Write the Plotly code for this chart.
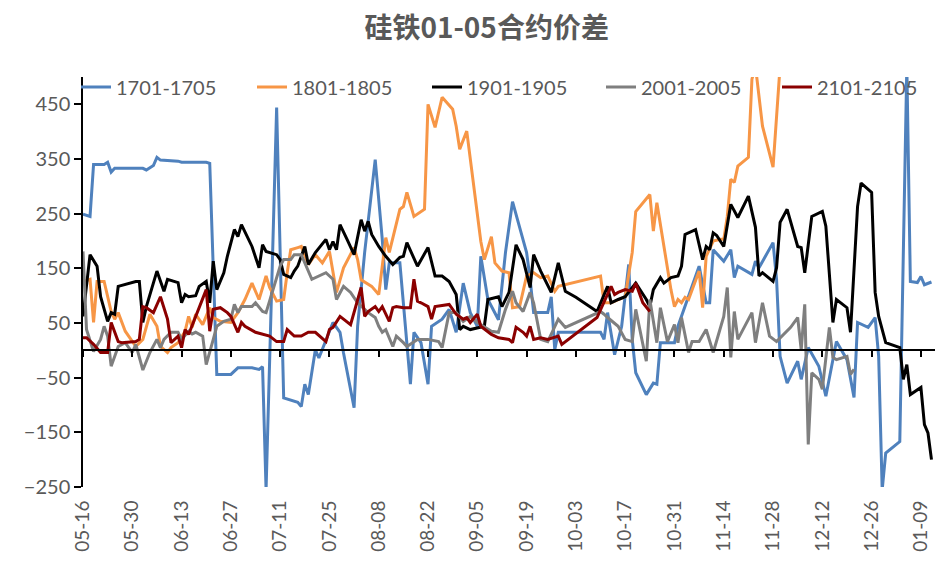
import plotly.graph_objects as go

# ---- data (month-day of each observation, value of the 01-05 spread) ----
d1701 = ["05-16", "05-18", "05-19", "05-22", "05-23", "05-24", "05-25", "06-02", "06-03", "06-05",
         "06-06", "06-07", "06-12", "06-13", "06-20", "06-21", "06-23", "06-27", "06-29", "07-03",
         "07-05", "07-06", "07-07", "07-10", "07-12", "07-16", "07-17", "07-18", "07-19", "07-21",
         "07-22", "07-24", "07-26", "07-28", "07-29", "08-01", "08-02", "08-04", "08-07", "08-09",
         "08-10", "08-11", "08-14", "08-17", "08-18", "08-20", "08-22", "08-23", "08-26", "08-28",
         "08-30", "09-01", "09-03", "09-05", "09-06", "09-08", "09-11", "09-13", "09-15", "09-19",
         "09-20", "09-21", "09-25", "09-26", "09-27", "09-28", "10-10", "10-11", "10-12", "10-14",
         "10-16", "10-18", "10-19", "10-20", "10-23", "10-25", "10-26", "10-27", "10-31", "11-01",
         "11-04", "11-07", "11-09", "11-10", "11-11", "11-14", "11-16", "11-17", "11-18", "11-22",
         "11-23", "11-24", "11-28", "11-29", "11-30", "12-02", "12-05", "12-06", "12-08", "12-11",
         "12-13", "12-16", "12-19", "12-21", "12-22", "12-25", "12-27", "12-28", "12-29", "12-30",
         "01-03", "01-05", "01-06", "01-08", "01-09", "01-10", "01-12"]
v1701 = [249, 245, 340, 340, 344, 326, 333, 333, 330, 338,
         353, 348, 346, 344, 344, 342, -44, -44, -32, -32,
         -35, -30, -255, 444, -87, -95, -103, -62, -81, 1,
         -14, 20, 51, 33, -5, -105, 44, 179, 349, 203,
         111, 160, 160, -62, 33, 14, -62, 44, 57, 75,
         33, 123, 69, 44, 172, 93, 56, 179, 272, 179,
         130, 69, 69, 98, 1, 33, 33, 20, 69, -8,
         44, 157, 20, -41, -81, -60, -62, 14, 14, 44,
         98, 154, 87, 87, 184, 163, 184, 133, 154, 139,
         163, 151, 197, 130, -11, -60, -20, -53, 5, -29,
         -84, 16, -17, -86, 51, 42, 60, -11, -255, -188,
         -167, 520, 126, 124, 135, 120, 125]

d1801 = ["05-16", "05-18", "05-19", "05-20", "05-22", "05-24", "05-25", "05-26", "05-28", "05-31",
         "06-02", "06-03", "06-04", "06-06", "06-07", "06-09", "06-10", "06-12", "06-14", "06-15",
         "06-16", "06-17", "06-19", "06-21", "06-22", "06-24", "06-27", "06-29", "07-01", "07-03",
         "07-05", "07-07", "07-08", "07-10", "07-12", "07-13", "07-14", "07-16", "07-17", "07-19",
         "07-21", "07-23", "07-25", "07-27", "07-29", "08-01", "08-02", "08-03", "08-06", "08-08",
         "08-10", "08-11", "08-14", "08-15", "08-16", "08-18", "08-21", "08-22", "08-24", "08-26",
         "08-29", "08-30", "08-31", "09-02", "09-04", "09-06", "09-07", "09-09", "09-10", "09-12",
         "09-14", "09-15", "09-17", "09-19", "09-21", "09-23", "09-25", "09-27", "09-28", "10-10",
         "10-11", "10-13", "10-17", "10-19", "10-20", "10-24", "10-25", "10-26", "10-30", "10-31",
         "11-01", "11-02", "11-03", "11-04", "11-07", "11-08", "11-09", "11-11", "11-13", "11-14",
         "11-15", "11-16", "11-17", "11-18", "11-21", "11-22", "11-23", "11-25", "11-28", "11-30"]
v1801 = [126, 130, 51, 126, 126, 71, 57, 69, 35, 7,
         20, 44, 66, 44, 7, -4, 5, 14, 35, 62,
         42, 66, 47, 78, 60, 53, 51, 69, 93, 123,
         93, 136, 115, 90, 93, 142, 184, 188, 190, 157,
         175, 160, 181, 106, 151, 188, 166, 129, 117, 102,
         206, 179, 258, 263, 289, 245, 258, 450, 408, 463,
         441, 410, 368, 401, 300, 199, 166, 208, 160, 145,
         142, 78, 80, 136, 142, 133, 136, 108, 117, 136,
         87, 87, 98, 179, 254, 285, 218, 270, 111, 80,
         93, 87, 97, 93, 145, 78, 172, 200, 203, 203,
         245, 313, 307, 337, 353, 496, 520, 410, 335, 520]

d1901 = ["05-16", "05-18", "05-20", "05-21", "05-23", "05-24", "05-25", "05-26", "05-31", "06-01",
         "06-02", "06-03", "06-06", "06-08", "06-09", "06-12", "06-13", "06-14", "06-15", "06-17",
         "06-18", "06-20", "06-21", "06-22", "06-23", "06-25", "06-26", "06-28", "06-29", "06-30",
         "07-03", "07-05", "07-06", "07-07", "07-10", "07-11", "07-12", "07-14", "07-15", "07-16",
         "07-18", "07-19", "07-21", "07-24", "07-25", "07-26", "07-27", "07-28", "07-30", "08-01",
         "08-03", "08-04", "08-05", "08-06", "08-08", "08-10", "08-12", "08-14", "08-15", "08-16",
         "08-19", "08-22", "08-24", "08-26", "08-28", "08-30", "08-31", "09-01", "09-03", "09-07",
         "09-08", "09-11", "09-12", "09-14", "09-16", "09-18", "09-20", "09-21", "09-23", "09-26",
         "09-28", "09-30", "10-03", "10-09", "10-12", "10-13", "10-15", "10-17", "10-20", "10-23",
         "10-24", "10-25", "10-27", "10-28", "10-30", "11-01", "11-02", "11-03", "11-06", "11-08",
         "11-09", "11-10", "11-11", "11-12", "11-13", "11-14", "11-16", "11-18", "11-21", "11-23",
         "11-24", "11-25", "11-28", "11-29", "11-30", "12-02", "12-05", "12-06", "12-07", "12-09",
         "12-12", "12-13", "12-15", "12-16", "12-19", "12-20", "12-22", "12-23", "12-26", "12-27",
         "12-28", "12-30", "01-03", "01-04", "01-05", "01-06", "01-09", "01-10", "01-11", "01-12"]
v1901 = [62, 175, 154, 98, 53, 69, 66, 117, 126, 126,
         51, 80, 145, 108, 130, 124, 87, 102, 98, 100,
         117, 126, 87, 163, 111, 142, 172, 221, 208, 230,
         190, 151, 193, 181, 175, 166, 139, 133, 145, 154,
         190, 157, 179, 203, 184, 199, 184, 230, 203, 175,
         239, 218, 236, 212, 190, 172, 157, 170, 172, 197,
         154, 188, 136, 136, 126, 102, 38, 44, 38, 44,
         93, 98, 80, 106, 193, 166, 115, 175, 145, 106,
         160, 108, 97, 71, 117, 87, 93, 98, 123, 93,
         80, 111, 133, 123, 133, 136, 154, 212, 221, 166,
         190, 184, 215, 210, 200, 190, 267, 243, 282, 225,
         136, 142, 126, 151, 234, 258, 190, 188, 142, 245,
         254, 227, 51, 93, 78, 33, 263, 306, 289, 106,
         62, 14, 5, -53, -26, -81, -68, -136, -151, -200]

d2001 = ["05-16", "05-17", "05-19", "05-21", "05-22", "05-23", "05-24", "05-26", "05-28", "05-30",
         "05-31", "06-02", "06-04", "06-06", "06-07", "06-08", "06-10", "06-12", "06-13", "06-15",
         "06-16", "06-17", "06-19", "06-20", "06-22", "06-23", "06-25", "06-27", "06-28", "06-29",
         "06-30", "07-03", "07-04", "07-06", "07-07", "07-09", "07-11", "07-12", "07-14", "07-15",
         "07-17", "07-20", "07-22", "07-24", "07-26", "07-27", "07-29", "07-31", "08-02", "08-05",
         "08-07", "08-08", "08-09", "08-10", "08-12", "08-13", "08-15", "08-16", "08-19", "08-22",
         "08-25", "08-26", "08-28", "08-30", "09-01", "09-03", "09-05", "09-08", "09-09", "09-11",
         "09-13", "09-15", "09-16", "09-18", "09-20", "09-21", "09-23", "09-25", "09-28", "09-30",
         "10-10", "10-11", "10-12", "10-15", "10-17", "10-19", "10-20", "10-23", "10-24", "10-26",
         "10-27", "10-29", "10-31", "11-01", "11-02", "11-04", "11-05", "11-07", "11-09", "11-11",
         "11-14", "11-15", "11-16", "11-17", "11-18", "11-22", "11-23", "11-25", "11-27", "11-29",
         "12-03", "12-05", "12-06", "12-07", "12-08", "12-09", "12-11", "12-12", "12-14", "12-15",
         "12-16", "12-19", "12-20", "12-21"]
v2001 = [181, 38, -2, 20, 44, 26, -29, 7, 14, -4,
         11, -36, -4, 20, 5, 20, 33, 33, 20, 35,
         30, 33, 26, -26, 20, 44, 53, 57, 84, 69,
         80, 80, 87, 71, 69, 111, 154, 166, 166, 175,
         175, 130, 136, 142, 130, 93, 117, 106, 87, 69,
         60, 44, 33, 38, 7, 26, 14, 7, 20, 20,
         16, 5, 69, 69, 53, 62, 51, 38, 35, 33,
         75, 108, 87, 71, 106, 87, 20, 16, 57, 42,
         71, 66, 60, 44, 20, 16, 75, -20, 93, 14,
         78, 16, 47, 14, 60, -4, 16, 16, 38, -4,
         62, 115, -13, 71, 20, 69, 14, 87, 26, 16,
         42, 60, 1, 84, -172, -41, -53, -71, 42, -13,
         -17, -11, -44, -35]

d2101 = ["05-16", "05-17", "05-19", "05-21", "05-23", "05-24", "05-26", "05-27", "05-31", "06-01",
         "06-02", "06-03", "06-05", "06-07", "06-09", "06-10", "06-12", "06-13", "06-14", "06-15",
         "06-20", "06-21", "06-22", "06-24", "06-26", "06-27", "06-29", "06-30", "07-01", "07-04",
         "07-08", "07-10", "07-12", "07-13", "07-15", "07-17", "07-19", "07-21", "07-24", "07-25",
         "07-26", "07-28", "07-31", "08-03", "08-04", "08-05", "08-07", "08-08", "08-09", "08-11",
         "08-12", "08-13", "08-15", "08-17", "08-18", "08-19", "08-20", "08-22", "08-23", "08-24",
         "08-28", "08-30", "09-01", "09-02", "09-03", "09-05", "09-06", "09-09", "09-11", "09-14",
         "09-15", "09-16", "09-18", "09-19", "09-20", "09-21", "09-23", "09-25", "09-28", "09-29",
         "10-09", "10-11", "10-13", "10-14", "10-15", "10-17", "10-19", "10-20", "10-22", "10-24"]
v2101 = [23, 23, 11, -4, -4, 51, 16, 14, 16, 20,
         80, 78, 69, 98, 57, 14, 26, 5, 38, 29,
         111, 35, 75, 78, 69, 62, 33, 51, 44, 33,
         26, 16, 16, 38, 26, 26, 33, 33, 16, 38,
         42, 62, 47, 115, 62, 71, 80, 71, 80, 53,
         78, 80, 78, 78, 130, 90, 87, 80, 57, 80,
         84, 66, 57, 60, 51, 66, 44, 29, 23, 20,
         14, 42, 33, 26, 44, 20, 23, 20, 26, 11,
         60, 90, 117, 102, 106, 111, 108, 123, 87, 71]

names = ["1701-1705", "1801-1805", "1901-1905", "2001-2005", "2101-2105"]
dates = [d1701, d1801, d1901, d2001, d2101]
values = [v1701, v1801, v1901, v2001, v2101]
colors = ["#4F81BD", "#F79646", "#000000", "#7F7F7F", "#8B0000"]

x_start, x_end = "2020-05-16", "2021-01-13"
y_ticks = [-250, -150, -50, 50, 150, 250, 350, 450]


def full_date(md):
    # season runs May -> January: months before May belong to the next year
    return ("2021-" if int(md[:2]) < 5 else "2020-") + md


fig = go.Figure()
legend_ids = ["legend", "legend2", "legend3", "legend4", "legend5"]
for name, d, v, c, lg in zip(names, dates, values, colors, legend_ids):
    fig.add_trace(go.Scatter(
        x=[full_date(m) for m in d], y=v, mode="lines", name=name,
        line=dict(color=c, width=3), legend=lg,
    ))

# helper trace so the zero-crossing axis (with tick marks) gets drawn
fig.add_trace(go.Scatter(x=[full_date(d1701[0])], y=[None], xaxis="x2",
                         showlegend=False, hoverinfo="skip"))

tick_font = dict(family="Lato, Noto Sans, sans-serif", size=19, color="#595959")
legend_font = dict(family="Lato, Noto Sans, sans-serif", size=20, color="#595959")
two_weeks = 14 * 24 * 3600 * 1000

# one legend box per series so the entries sit where the original ones are
legend_left = [76, 252, 427, 601, 777]
for lg, left in zip(legend_ids, legend_left):
    fig.update_layout({lg: dict(x=left / 945, xref="container", xanchor="left",
                                y=1 - 87 / 561, yref="container", yanchor="middle",
                                bgcolor="rgba(0,0,0,0)", font=legend_font)})

fig.update_layout(
    width=945, height=561,
    margin=dict(l=83, r=10, t=77, b=74, autoexpand=False),
    paper_bgcolor="white", plot_bgcolor="white",
    title=dict(text="<b>硅铁01-05合约价差</b>", x=0.515, xref="container", y=0.95, yref="container",
               xanchor="center", yanchor="middle",
               font=dict(family="Noto Sans CJK SC", size=28, color="#595959")),
    xaxis=dict(type="date", range=[x_start, x_end], tick0=x_start, dtick=two_weeks,
               tickformat="%m-%d", tickangle=-90, tickfont=tick_font,
               showgrid=False, zeroline=False, showline=False,
               ticks="outside", ticklen=5, tickcolor="rgba(0,0,0,0)"),
    xaxis2=dict(type="date", matches="x", overlaying="x", anchor="free", position=250 / 750,
                tick0=x_start, dtick=two_weeks, showticklabels=False,
                showgrid=False, zeroline=False, showline=True, linecolor="black", linewidth=1.5,
                ticks="outside", ticklen=6, tickwidth=1.5, tickcolor="black"),
    yaxis=dict(range=[-250, 500], tickvals=y_ticks, tickfont=dict(tick_font, size=20),
               showgrid=False, zeroline=False, showline=True, linecolor="black", linewidth=1.5,
               ticks="outside", ticklen=7, tickwidth=1.5, tickcolor="black"),
)

# the page's default 8px body margin would shift the whole chart
fig.write_html("out.html", config={"displayModeBar": False},
               post_script="document.body.style.margin = '0px';")
